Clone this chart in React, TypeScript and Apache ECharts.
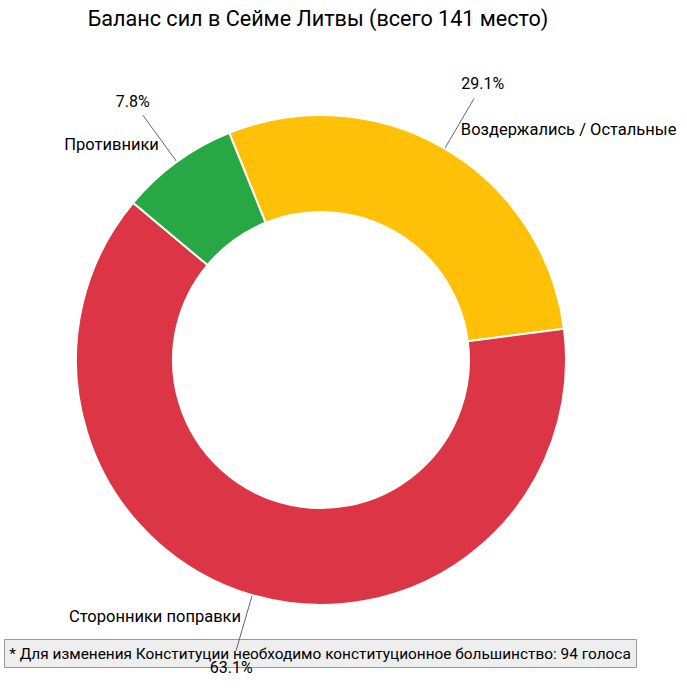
import React, { useEffect, useRef } from "react";
import * as echarts from "echarts";

const TITLE = "Баланс сил в Сейме Литвы (всего 141 место)";
const FOOTNOTE = "* Для изменения Конституции необходимо конституционное большинство: 94 голоса";
const categories = ["Воздержались / Остальные", "Сторонники поправки", "Противники"];
const seats = [41, 89, 11];
const colors = ["#FFC107", "#DC3545", "#28A745"];

const FONT = "Roboto, 'Noto Sans', sans-serif";

export default function App() {
  const ref = useRef<HTMLDivElement>(null);
  useEffect(() => {
    document.body.style.margin = "0";
    if (!ref.current) return;
    const chart = echarts.init(ref.current, undefined, { renderer: "svg" });
    const data = categories.map((name, i) => ({
      name,
      value: seats[i],
      itemStyle: { color: colors[i] },
    }));
    const center = [321, 360];
    const radius = [148, 245];
    chart.setOption({
      animation: false,
      backgroundColor: "#ffffff",
      textStyle: { fontFamily: FONT },
      graphic: [
        {
          type: "text",
          x: 318,
          y: 18,
          style: {
            text: TITLE,
            fontFamily: FONT,
            fontSize: 21.6,
            fill: "#000",
            textAlign: "center",
            textVerticalAlign: "middle",
          },
          z: 10,
        },
        {
          type: "rect",
          shape: { x: 4.5, y: 639.5, width: 632, height: 28 },
          style: { fill: "#eeeeee", stroke: "#999999", lineWidth: 1 },
          z: 1,
        },
        {
          type: "text",
          x: 320,
          y: 654,
          style: {
            text: FOOTNOTE,
            fontFamily: FONT,
            fontSize: 15.4,
            fill: "#000",
            textAlign: "center",
            textVerticalAlign: "middle",
          },
          z: 2,
        },
      ],
      series: [
        {
          type: "pie",
          left: 0,
          top: 0,
          width: 1000,
          height: 688,
          center,
          radius,
          startAngle: 112,
          clockwise: true,
          avoidLabelOverlap: false,
          percentPrecision: 1,
          z: 3,
          itemStyle: { borderColor: "#ffffff", borderWidth: 2 },
          emphasis: { disabled: true },
          label: {
            show: true,
            position: "outside",
            formatter: "{d}%",
            fontFamily: FONT,
            fontSize: 16,
            color: "#000",
            bleedMargin: 0,
          },
          labelLine: {
            show: true,
            length: 58,
            length2: 0,
            smooth: false,
            lineStyle: { color: "#666666", width: 1 },
          },
          labelLayout: (params: any) => {
            const pts = params.labelLinePoints;
            if (!pts || pts.length < 2) return {};
            const [x1, y1] = pts[0];
            const [x2, y2] = pts[1];
            const len = Math.hypot(x2 - x1, y2 - y1) || 1;
            const ux = (x2 - x1) / len;
            const uy = (y2 - y1) / len;
            return {
              x: x2 + ux * 17,
              y: y2 + uy * 17,
              align: "center",
              verticalAlign: "middle",
              labelLinePoints: pts,
            };
          },
          data,
        },
        {
          type: "pie",
          left: 0,
          top: 0,
          width: 1000,
          height: 688,
          center,
          radius,
          startAngle: 112,
          clockwise: true,
          avoidLabelOverlap: false,
          silent: true,
          z: 4,
          itemStyle: { color: "rgba(0,0,0,0)", borderWidth: 0 },
          emphasis: { disabled: true },
          label: {
            show: true,
            position: "outside",
            formatter: "{b}",
            fontFamily: FONT,
            fontSize: 16.5,
            color: "#000",
            bleedMargin: 0,
            distanceToLabelLine: 5,
          },
          labelLine: { show: false, length: 22, length2: 0 },
          data: categories.map((name, i) => ({
            name,
            value: seats[i],
            itemStyle: { color: "rgba(0,0,0,0)" },
          })),
        },
      ],
    });
    return () => chart.dispose();
  }, []);
  return <div ref={ref} style={{ width: 687, height: 688 }} />;
}
